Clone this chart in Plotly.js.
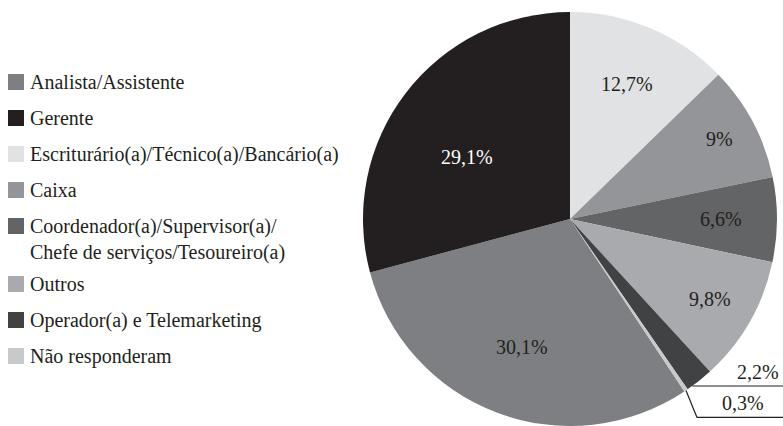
<!DOCTYPE html>
<html>
<head>
<meta charset="utf-8">
<script src="https://cdn.plot.ly/plotly-3.0.1.min.js"></script>
<style>html,body{margin:0;padding:0;background:#fff;}#chart{width:783px;height:426px;}</style>
</head>
<body>
<div id="chart"></div>
<script>
// Data (legend order)
const categories = [
  "Analista/Assistente",
  "Gerente",
  "Escriturário(a)/Técnico(a)/Bancário(a)",
  "Caixa",
  "Coordenador(a)/Supervisor(a)/<br>Chefe de serviços/Tesoureiro(a)",
  "Outros",
  "Operador(a) e Telemarketing",
  "Não responderam"
];
const values = [30.1, 29.1, 12.7, 9, 6.6, 9.8, 2.2, 0.3];
const colors = ["#7e7f82", "#231f20", "#e1e2e3", "#939598", "#636466", "#a9aaad", "#414244", "#c8c9cb"];
const textColors = ["#231f20", "#ffffff", "#231f20", "#231f20", "#231f20", "#231f20", "#231f20", "#231f20"];
const outsideIdx = [6, 7]; // labelled with leader lines

const W = 783, H = 426;
const FONT = "'Liberation Serif', 'Times New Roman', serif";
const fmt = v => String(v).replace('.', ',') + '%';
const total = values.reduce((a, b) => a + b, 0);
// rotate so that Escriturário starts at 12 o'clock
const rotation = 360 - (values[0] + values[1]) / total * 360;

const px = x => x / W;
const py = y => 1 - y / H;

// pie geometry (pixels)
const domX = [0.4636, 0.9923], domY = [0, 0.9718];
const cx = (domX[0] + domX[1]) / 2 * W;
const cy = H - (domY[0] + domY[1]) / 2 * H;
const R = Math.min((domX[1] - domX[0]) * W, (domY[1] - domY[0]) * H) / 2;

const trace = {
  type: "pie",
  values: values,
  labels: categories,
  textinfo: "none",
  sort: false,
  direction: "clockwise",
  rotation: rotation,
  marker: {colors: colors, line: {width: 0}},
  domain: {x: domX, y: domY},
  hoverinfo: "label+percent",
  showlegend: false
};

const shapes = [], annotations = [];

// manual legend
let yc = 82;
categories.forEach((c, i) => {
  const lines = c.split("<br>").length;
  shapes.push({type: "rect", xref: "paper", yref: "paper",
    x0: px(8), x1: px(24), y0: py(yc - 8), y1: py(yc + 8),
    fillcolor: colors[i], line: {width: 0}});
  annotations.push({xref: "paper", yref: "paper", x: px(29), y: py(yc - 12),
    xanchor: "left", yanchor: "top", align: "left", showarrow: false,
    text: c, font: {family: FONT, size: 20, color: "#231f20"}, borderpad: 0});
  yc += 36 + (lines - 1) * 22;
});

// slice angle helper (radians, clockwise from 12 o'clock); f = position within slice
const sliceAngle = (i, f) => {
  let cum = 0;
  for (let k = 0; k < i; k++) cum += values[k];
  return (rotation + (cum + values[i] * f) / total * 360) * Math.PI / 180;
};

// inside labels: placement within slice (angle fraction, radius fraction)
const labelAngleFrac = [0.5, 0.44, 0.5, 0.5, 0.5, 0.5];
const labelRadius = [0.66, 0.58, 0.71, 0.82, 0.73, 0.78];
values.forEach((v, i) => {
  if (outsideIdx.includes(i)) return;
  const a = sliceAngle(i, labelAngleFrac[i]);
  const rr = R * labelRadius[i];
  annotations.push({xref: "paper", yref: "paper",
    x: px(cx + rr * Math.sin(a)), y: py(cy - rr * Math.cos(a)),
    xanchor: "center", yanchor: "middle", showarrow: false, borderpad: 0,
    text: fmt(v), font: {family: FONT, size: 20, color: textColors[i]}});
});

// leader labels for small slices
const leaderCfg = {
  6: {f: 0.8, dx: 0, dy: 0, textX: 780},
  7: {f: 0.5, dx: 11, dy: 27, textX: 765}
};
outsideIdx.forEach(i => {
  const cfg = leaderCfg[i];
  const a = sliceAngle(i, cfg.f);
  const x0 = cx + R * Math.sin(a), y0 = cy - R * Math.cos(a);
  const x1 = x0 + cfg.dx, y1 = y0 + cfg.dy;
  if (cfg.dy > 0) shapes.push({type: "line", xref: "paper", yref: "paper",
    x0: px(x0), y0: py(y0), x1: px(x1), y1: py(y1), line: {color: "#231f20", width: 1.2}});
  shapes.push({type: "line", xref: "paper", yref: "paper",
    x0: px(x1), y0: py(y1), x1: 1, y1: py(y1), line: {color: "#231f20", width: 1.2}});
  annotations.push({xref: "paper", yref: "paper", x: px(cfg.textX), y: py(y1 - 2),
    xanchor: "right", yanchor: "bottom", showarrow: false, borderpad: 0,
    text: fmt(values[i]), font: {family: FONT, size: 20, color: "#231f20"}});
});

const layout = {
  width: W, height: H,
  margin: {l: 0, r: 0, t: 0, b: 0},
  paper_bgcolor: "#ffffff",
  plot_bgcolor: "#ffffff",
  showlegend: false,
  shapes: shapes,
  annotations: annotations,
  font: {family: FONT}
};

Plotly.newPlot("chart", [trace], layout, {displayModeBar: false, staticPlot: true});
</script>
</body>
</html>
